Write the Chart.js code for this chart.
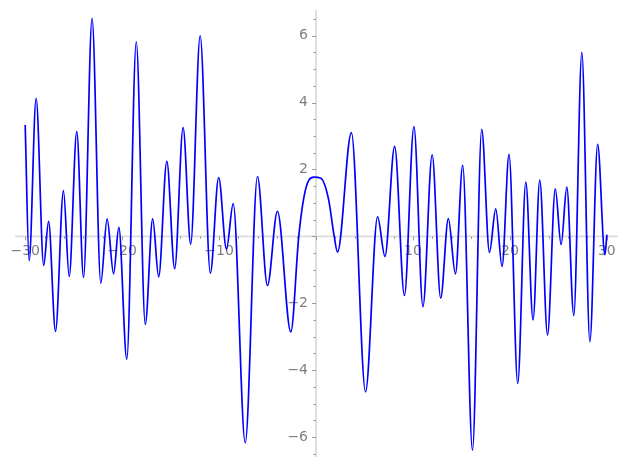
<!DOCTYPE html>
<html lang="en">
<head>
    <meta charset="UTF-8">
    <title>Curve</title>
    <style>
        body {
            margin: 0;
            background: #ffffff;
        }
        #chartBox {
            width: 627px;
            height: 469px;
        }
    </style>
</head>
<body>

<div id="chartBox">
    <canvas id="curveChart" width="627" height="469"></canvas>
</div>

<script src="https://cdn.jsdelivr.net/npm/chart.js"></script>
<script>
    // points (mostly the peaks and troughs of the curve)
    const xValues = [
        -30, -29.59, -28.87, -28.09, -27.59, -26.87, -26.05, -25.46, -24.68, -23.98,
        -23.10, -22.20, -21.55, -20.88, -20.34, -19.52, -18.54, -17.61, -16.85, -16.23,
        -15.39, -14.58, -13.71, -12.93, -11.95, -10.90, -10.04, -9.24, -8.54, -7.30,
        -6.04, -5.01, -3.98, -2.60, -1.78, -1.26, -0.74, -0.20, 0.50, 1.30,
        1.85, 2.22, 3.65, 5.11, 6.35, 7.11, 8.11, 9.12, 10.10, 11.03,
        11.98, 12.86, 13.65, 14.38, 15.13, 16.14, 17.09, 17.89, 18.54, 19.19,
        19.91, 20.81, 21.64, 22.39, 23.08, 23.88, 24.68, 25.28, 25.87, 26.59,
        27.42, 28.25, 29.05, 29.80, 30
    ];
    const yValues = [
        3.33, -0.73, 4.13, -0.87, 0.45, -2.84, 1.37, -1.20, 3.13, -1.23,
        6.52, -1.40, 0.52, -1.12, 0.27, -3.68, 5.82, -2.63, 0.52, -1.21,
        2.24, -0.97, 3.25, -0.23, 6.00, -1.10, 1.76, -0.38, 0.98, -6.18,
        1.79, -1.47, 0.75, -2.86, 0.00, 1.15, 1.68, 1.77, 1.74, 1.10,
        0.05, -0.47, 3.10, -4.65, 0.58, -0.60, 2.69, -1.77, 3.28, -2.10,
        2.44, -1.85, 0.53, -1.12, 2.12, -6.40, 3.20, -0.48, 0.82, -0.90,
        2.45, -4.40, 1.62, -2.50, 1.68, -2.95, 1.42, -0.25, 1.47, -2.37,
        5.50, -3.15, 2.75, -0.55, 0.05
    ];

    const xTicks = [-30, -20, -10, 10, 20, 30];
    const yTicks = [-6, -4, -2, 2, 4, 6];

    const axisColor = '#dcdcdc';
    const tickColor = '#9a9a9a';
    const labelColor = '#7f7f7f';

    // axes drawn through the origin, the way sage/matplotlib does it
    const originAxes = {
        id: 'originAxes',
        beforeDatasetsDraw(chart) {
            const ctx = chart.ctx;
            const area = chart.chartArea;
            const xs = chart.scales.x;
            const ys = chart.scales.y;
            const x0 = xs.getPixelForValue(0);
            const y0 = ys.getPixelForValue(0);

            ctx.save();
            ctx.strokeStyle = axisColor;
            ctx.lineWidth = 1.8;
            ctx.beginPath();
            ctx.moveTo(area.left, y0);
            ctx.lineTo(area.right, y0);
            ctx.moveTo(x0, area.top);
            ctx.lineTo(x0, area.bottom);
            ctx.stroke();

            ctx.strokeStyle = tickColor;
            ctx.lineWidth = 1;
            ctx.beginPath();
            for (let v = -30; v <= 30; v += 2) {
                const px = Math.round(xs.getPixelForValue(v)) + 0.5;
                const len = v % 10 === 0 ? 4 : 2.5;
                ctx.moveTo(px, y0);
                ctx.lineTo(px, y0 + len);
            }
            for (let v = -6.5; v <= 6.5; v += 0.5) {
                const py = Math.round(ys.getPixelForValue(v)) + 0.5;
                const len = v % 2 === 0 ? 4 : 2.5;
                ctx.moveTo(x0, py);
                ctx.lineTo(x0 - len, py);
            }
            ctx.stroke();

            ctx.fillStyle = labelColor;
            ctx.font = '14px "DejaVu Sans"';
            ctx.textAlign = 'center';
            ctx.textBaseline = 'top';
            xTicks.forEach(v => {
                const txt = v < 0 ? '\u2212' + Math.abs(v) : String(v);
                ctx.fillText(txt, xs.getPixelForValue(v), y0 + 8);
            });
            ctx.textAlign = 'right';
            ctx.textBaseline = 'middle';
            yTicks.forEach(v => {
                const txt = v < 0 ? '\u2212' + Math.abs(v) : String(v);
                ctx.fillText(txt, x0 - 8, ys.getPixelForValue(v));
            });
            ctx.restore();
        }
    };

    const ctx = document.getElementById('curveChart').getContext('2d');
    new Chart(ctx, {
        type: 'line',
        data: {
            datasets: [{
                data: xValues.map((x, i) => ({ x: x, y: yValues[i] })),
                borderColor: '#0000ff',
                borderWidth: 1.7,
                pointRadius: 0,
                fill: false,
                cubicInterpolationMode: 'monotone'
            }]
        },
        options: {
            responsive: false,
            animation: false,
            layout: {
                padding: { left: 15, right: 9, top: 10, bottom: 12 }
            },
            plugins: {
                legend: { display: false },
                tooltip: { enabled: false }
            },
            scales: {
                x: { type: 'linear', min: -31.05, max: 31.15, display: false },
                y: { type: 'linear', min: -6.6, max: 6.77, display: false }
            }
        },
        plugins: [originAxes]
    });
</script>

</body>
</html>
